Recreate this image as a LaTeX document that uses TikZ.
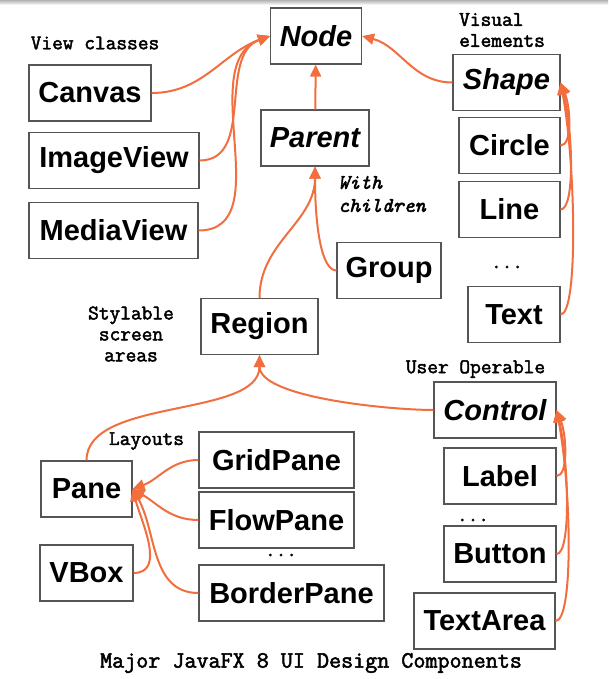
\documentclass[tikz,border=0pt]{standalone}
\usepackage{fontspec}
\setsansfont{Liberation Sans}
\newfontfamily\notefont{Latin Modern Mono}[FakeBold=2.2]
\usepackage{tikz}
\usetikzlibrary{arrows.meta}
\definecolor{fxorange}{RGB}{242,110,62}
\definecolor{boxgray}{RGB}{85,85,85}

\begin{document}
\begin{tikzpicture}[x=1pt, y=1pt, >={Triangle[length=12pt,width=11pt]},
    clsbox/.style={draw=boxgray, line width=1.1pt, inner sep=0pt, minimum height=56pt,
        font=\sffamily\bfseries\fontsize{29}{32}\selectfont},
    absbox/.style={clsbox, font=\sffamily\bfseries\itshape\fontsize{29}{32}\selectfont},
    note/.style={inner sep=0pt, font=\notefont\fontsize{20.8}{21}\selectfont},
    link/.style={->, draw=fxorange, line width=2pt}]
    \useasboundingbox (0,0) rectangle (608,-679);
    \shade[top color=gray!60, bottom color=white] (0,0) rectangle (608,-5);

    % classes
    \node[absbox, minimum width=91pt]  (node)       at (316,-36)    {Node};
    \node[clsbox, minimum width=122pt] (canvas)     at (90,-93)     {Canvas};
    \node[clsbox, minimum width=170pt] (imageview)  at (114,-160.5) {ImageView};
    \node[clsbox, minimum width=169pt] (mediaview)  at (113.5,-230.5) {MediaView};
    \node[absbox, minimum width=108pt] (parent)     at (315,-138)   {Parent};
    \node[absbox, minimum width=107pt] (shape)      at (506.5,-82.5) {Shape};
    \node[clsbox, minimum width=101pt] (circle)     at (509.5,-145.5) {Circle};
    \node[clsbox, minimum width=101pt] (line)       at (509.5,-209.5) {Line};
    \node[clsbox, minimum width=104pt] (group)      at (389,-270.5) {Group};
    \node[clsbox, minimum width=92pt]  (text)       at (514,-314.5) {Text};
    \node[clsbox, minimum width=117pt] (region)     at (259.5,-326.5) {Region};
    \node[absbox, minimum width=122pt] (control)    at (495,-410)   {Control};
    \node[clsbox, minimum width=155pt] (gridpane)   at (276.5,-460) {GridPane};
    \node[clsbox, minimum width=91pt]  (pane)       at (86.5,-489)  {Pane};
    \node[clsbox, minimum width=155pt] (flowpane)   at (276.5,-520) {FlowPane};
    \node[clsbox, minimum width=93pt]  (vbox)       at (86.5,-573)  {VBox};
    \node[clsbox, minimum width=185pt] (borderpane) at (291.5,-593) {BorderPane};
    \node[clsbox, minimum width=112pt] (label)      at (500,-476)   {Label};
    \node[clsbox, minimum width=112pt] (button)     at (500,-554)   {Button};
    \node[clsbox, minimum width=141pt] (textarea)   at (484.5,-621) {TextArea};

    % remarks
    \node[note] (viewnote)    at (95,-43)  {View classes};
    \node[note, align=left, anchor=west] (visualnote) at (459,-30) {Visual\\elements};
    \node[note, align=left, anchor=west, font=\notefont\itshape\fontsize{20.8}{23}\selectfont]
        (childnote) at (338,-194) {With\\children};
    \node[note, align=center] (stylenote)  at (131,-334) {Stylable\\screen\\ areas};
    \node[note] (usernote)    at (475.5,-369) {User Operable};
    \node[note] (layoutnote)  at (146.5,-441) {Layouts};
    \node[note] (shapedots)   at (507,-267) {...};
    \node[note] (panedots)    at (281,-555) {...};
    \node[note] (controldots) at (473,-520) {...};
    \node[note, font=\notefont\fontsize{23.4}{24}\selectfont] (caption) at (311,-663)
        {Major JavaFX 8 UI Design Components};

    % inheritance links
    \draw[link] (canvas.east) to[out=0,in=200] (node.west);
    \draw[link] (imageview.east) to[out=0,in=200] (node.west);
    \draw[link] (mediaview.east) to[out=0,in=200] (node.west);
    \draw[link] (shape.west) to[out=180,in=-15] (node.east);
    \draw[link] (parent) -- (node);
    \draw[link] (group.west) .. controls +(-15,0) and +(0,-60) .. (parent.south);
    \draw[link] (region.north) to[out=90,in=-90] (parent.south);
    \draw[link] (circle.east) .. controls +(12,0) and +(10,-25) .. (shape.east);
    \draw[link] (line.east) .. controls +(15,0) and +(12,-45) .. (shape.east);
    \draw[link] (text.east) .. controls +(18,0) and +(15,-80) .. (shape.east);
    \draw[link] (pane.north) to[out=90,in=-90,looseness=0.8] (region.south);
    \draw[link] (control.west) to[out=180,in=-90,looseness=0.6] (region.south);
    \draw[link] (gridpane.west) to[out=180,in=20] (pane.east);
    \draw[link] (flowpane.west) to[out=180,in=-30] (pane.east);
    \draw[link] (borderpane.west) to[out=180,in=-60] (pane.east);
    \draw[link] (vbox.east) to[out=0,in=-75] (pane.east);
    \draw[link] (label.east) .. controls +(12,0) and +(10,-25) .. (control.east);
    \draw[link] (button.east) .. controls +(15,0) and +(12,-50) .. (control.east);
    \draw[link] (textarea.east) .. controls +(18,0) and +(15,-80) .. (control.east);
\end{tikzpicture}
\end{document}
